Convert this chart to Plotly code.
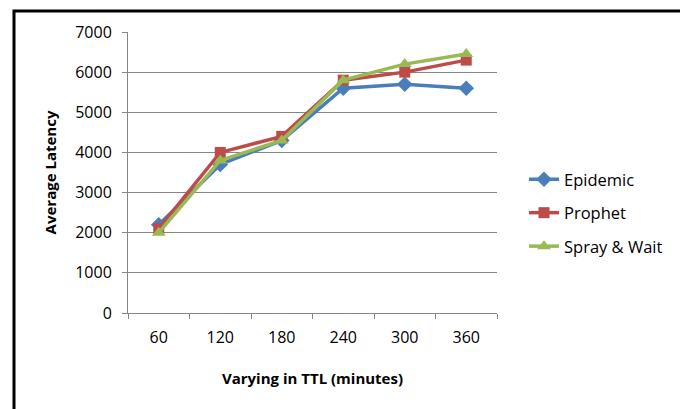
import plotly.graph_objects as go

categories = ["60", "120", "180", "240", "300", "360"]
epidemic = [2200, 3700, 4300, 5600, 5700, 5600]
prophet = [2100, 4000, 4400, 5800, 6000, 6300]
spray_wait = [2000, 3800, 4300, 5800, 6200, 6450]
y_ticks = [0, 1000, 2000, 3000, 4000, 5000, 6000, 7000]

# page has an 8px body margin; work in page pixels and convert
OFF = 8
W, H = 688 - OFF, 409 - OFF
L, T = 128 - OFF, 32 - OFF
pw, ph = 369, 281
R, B = W - L - pw, H - T - ph

def px(x):
    return (x - OFF - L) / pw

def py(y):
    return (T + ph - (y - OFF)) / ph

font = "Open Sans, Liberation Sans, sans-serif"

fig = go.Figure()
series = [
    ("Epidemic", epidemic, "#4A7EBB", "diamond", 12),
    ("Prophet", prophet, "#BE4B48", "square", 11),
    ("Spray & Wait", spray_wait, "#98B954", "triangle-up", 12),
]
for name, vals, col, sym, sz in series:
    fig.add_trace(go.Scatter(
        x=categories, y=vals, name=name, mode="lines+markers",
        legendgroup=name,
        line=dict(color=col, width=3.5),
        marker=dict(symbol=sym, size=sz, color=col),
    ))

fig.update_layout(
    width=W, height=H,
    margin=dict(l=L, r=R, t=T, b=B),
    paper_bgcolor="white", plot_bgcolor="white",
    font=dict(family=font, size=16, color="black"),
    showlegend=True,
    legend=dict(x=px(524), y=py(162), xanchor="left", yanchor="top",
                font=dict(size=16.5), tracegroupgap=9, itemwidth=30,
                bgcolor="rgba(0,0,0,0)"),
    xaxis=dict(
        type="category", tickson="boundaries", ticks="outside", ticklen=5,
        tickcolor="#868686", showline=True, linecolor="#868686", linewidth=1,
        showgrid=False, range=[-0.5, 5.5], ticklabelstandoff=10,
        title=dict(text="<b>Varying in TTL (minutes)</b>", font=dict(size=15), standoff=26),
    ),
    yaxis=dict(
        range=[0, 7000], tickvals=y_ticks, ticks="outside", ticklen=5,
        tickcolor="#868686", showline=True, linecolor="#868686", linewidth=1,
        showgrid=True, gridcolor="#868686", gridwidth=1, zeroline=False,
        ticklabelstandoff=7,
        title=dict(text="<b>Average Latency</b>", font=dict(size=15), standoff=14),
    ),
    shapes=[dict(type="rect", xref="paper", yref="paper",
                 x0=px(14), x1=px(682), y0=py(440), y1=py(11),
                 line=dict(color="black", width=3))],
)

fig.write_html("out.html")
